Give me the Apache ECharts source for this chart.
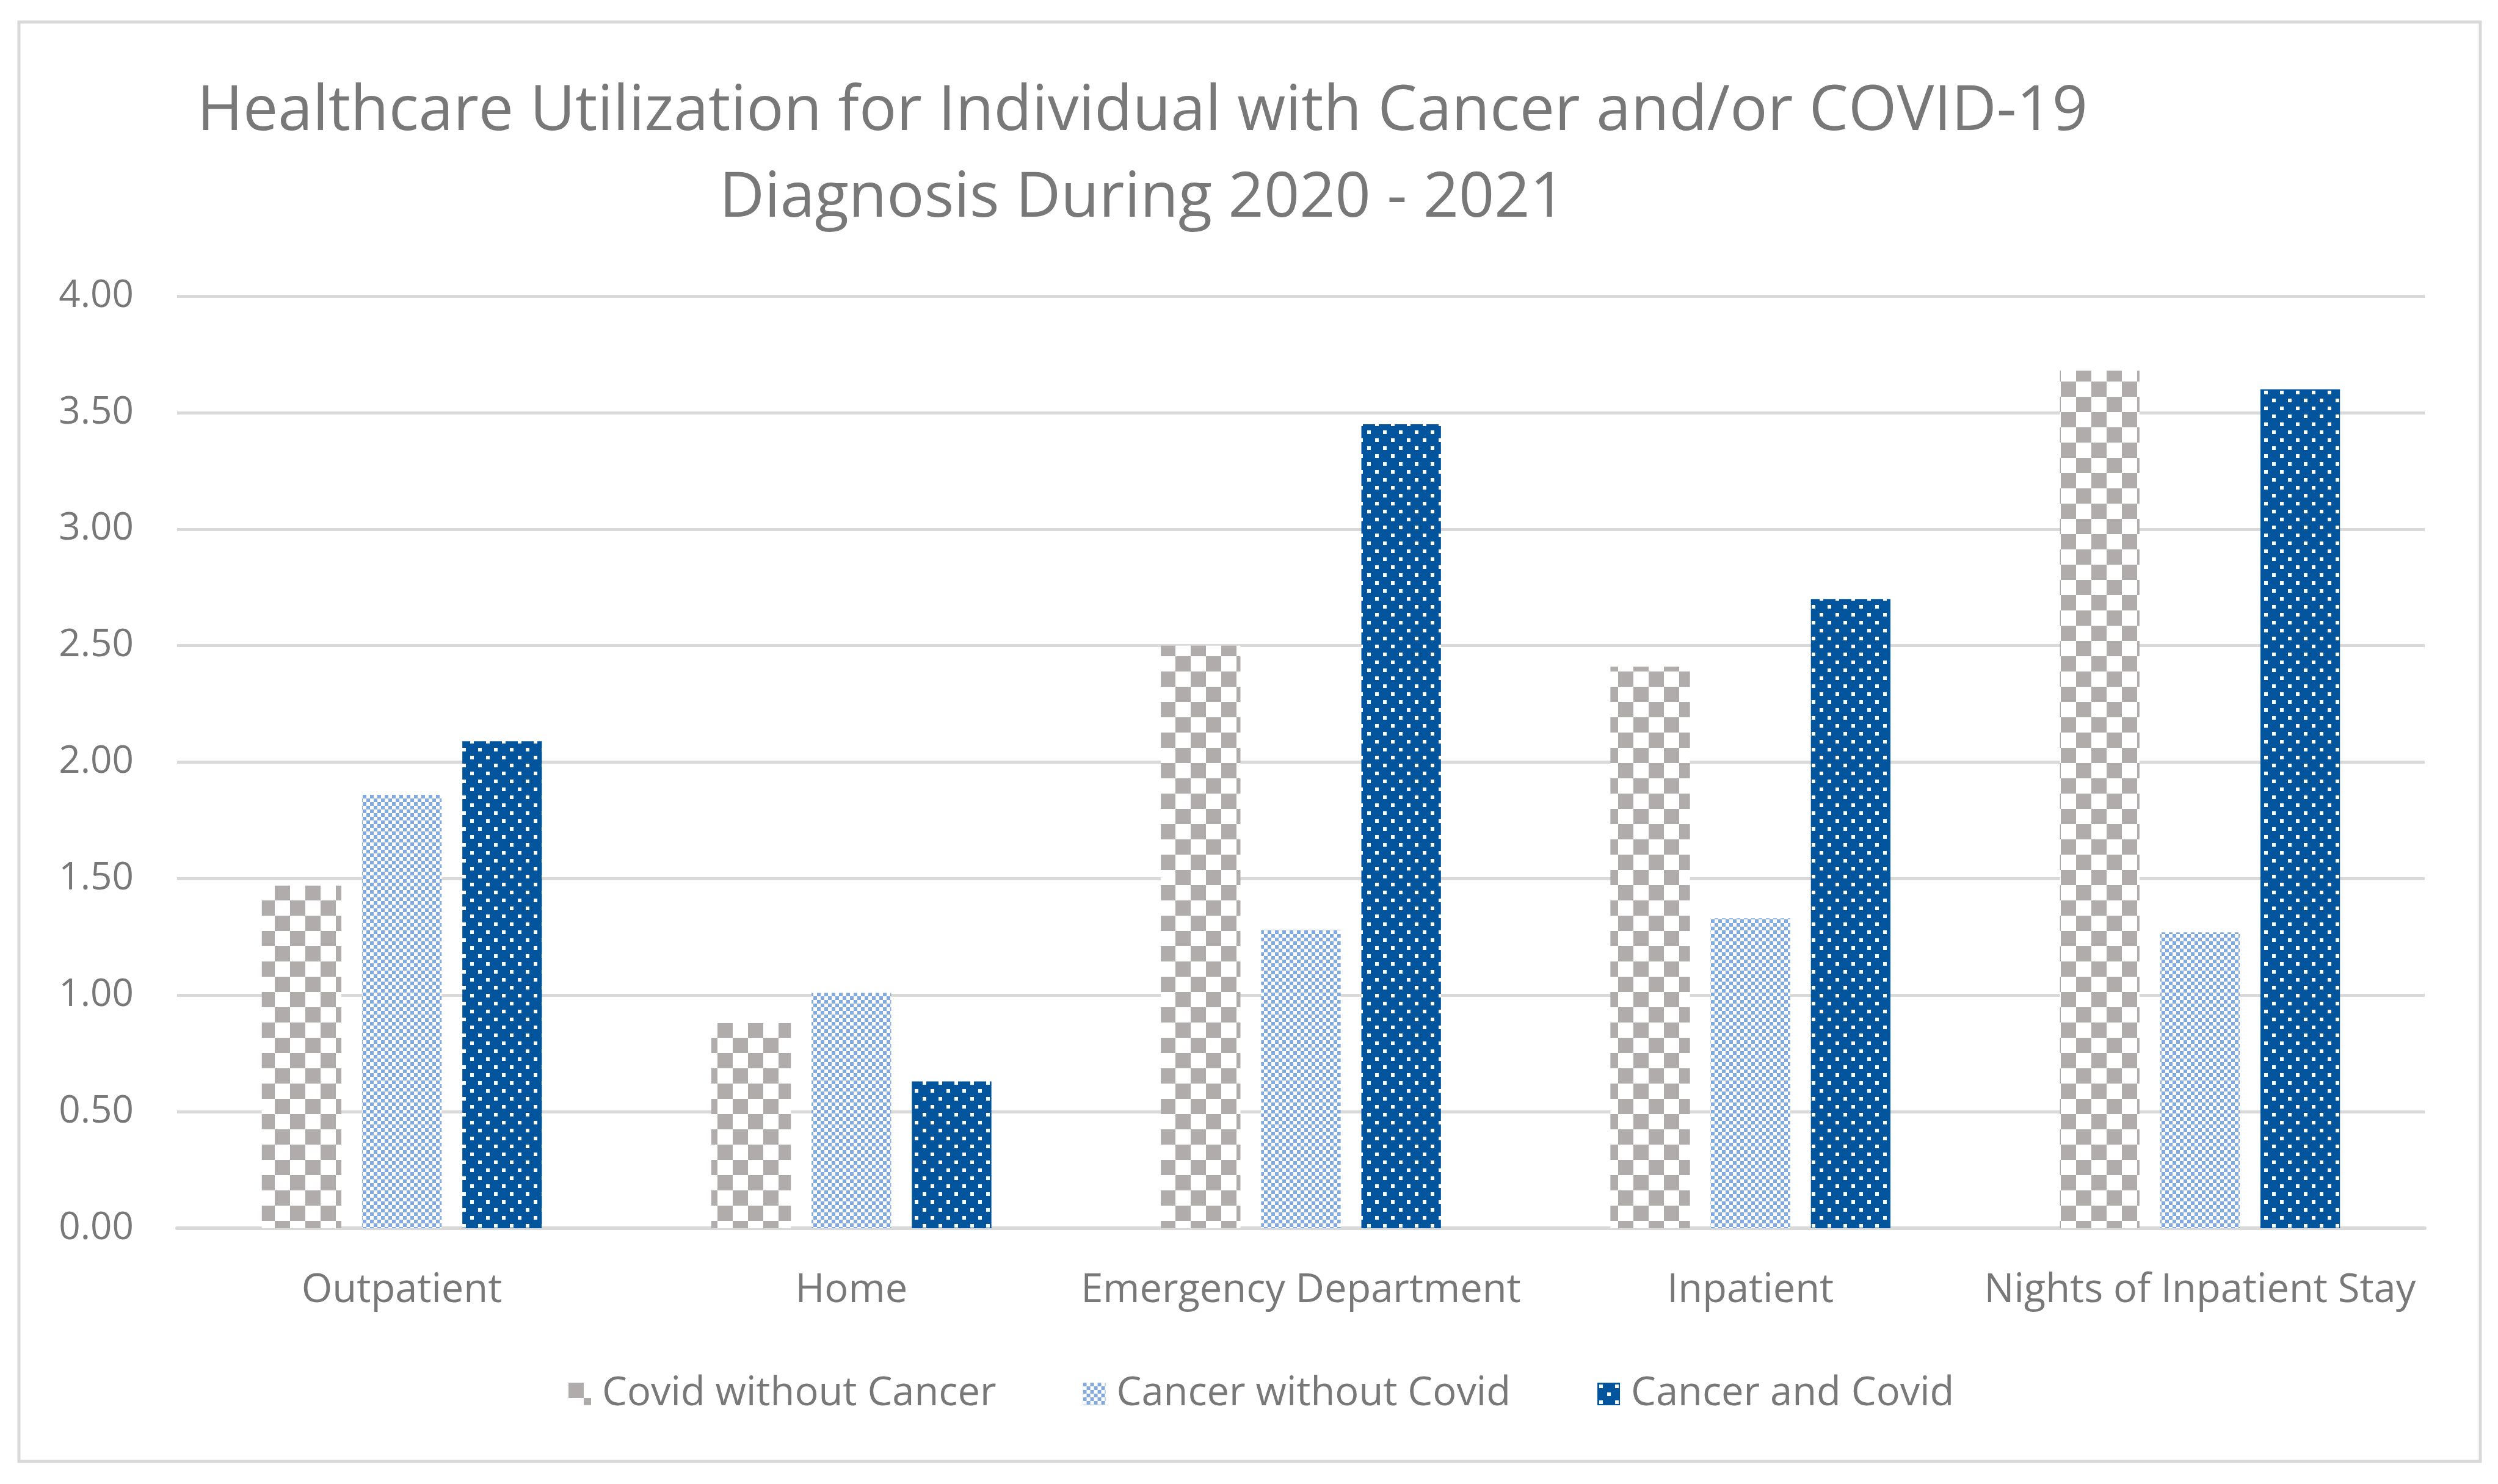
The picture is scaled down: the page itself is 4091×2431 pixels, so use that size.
<!DOCTYPE html>
<html>
<head>
<meta charset="utf-8">
<script src="https://cdn.jsdelivr.net/npm/echarts@6/dist/echarts.min.js"></script>
<style>
html,body{margin:0;padding:0;background:#fff;}
#chart{width:4091px;height:2431px;}
</style>
</head>
<body>
<div id="chart"></div>
<script>
const categories = ['Outpatient', 'Home', 'Emergency Department', 'Inpatient', 'Nights of Inpatient Stay'];
const seriesNames = ['Covid without Cancer', 'Cancer without Covid', 'Cancer and Covid'];
const covidWithoutCancer = [1.47, 0.88, 2.50, 2.41, 3.68];
const cancerWithoutCovid = [1.86, 1.01, 1.28, 1.33, 1.27];
const cancerAndCovid = [2.09, 0.63, 3.45, 2.70, 3.60];
const yTicks = { min: 0, max: 4, interval: 0.5 };
const titleText = 'Healthcare Utilization for Individual with Cancer and/or COVID-19\nDiagnosis During 2020 - 2021';

function makeChecker(size, color) {
  const c = document.createElement('canvas');
  c.width = size * 2; c.height = size * 2;
  const ctx = c.getContext('2d');
  ctx.fillStyle = '#ffffff';
  ctx.fillRect(0, 0, c.width, c.height);
  ctx.fillStyle = color;
  ctx.fillRect(0, 0, size, size);
  ctx.fillRect(size, size, size, size);
  return c;
}
function makeDots(tile, dot, color) {
  const c = document.createElement('canvas');
  c.width = tile; c.height = tile;
  const ctx = c.getContext('2d');
  ctx.fillStyle = color;
  ctx.fillRect(0, 0, tile, tile);
  ctx.fillStyle = '#ffffff';
  ctx.fillRect(3, 3, dot, dot);
  ctx.fillRect(3 + tile / 2, 3 + tile / 2, dot, dot);
  return c;
}
const grayPat = { image: makeChecker(25, '#AFACAB'), repeat: 'repeat' };
const lightPat = { image: makeChecker(6, '#82AADF'), repeat: 'repeat' };
const darkPat = { image: makeDots(26, 6, '#02559D'), repeat: 'repeat' };

const FONT = '"Open Sans", "Noto Sans", sans-serif';
const TEXT = '#787878';
const chart = echarts.init(document.getElementById('chart'));
const dataSets = [covidWithoutCancer, cancerWithoutCovid, cancerAndCovid];
const pats = [grayPat, lightPat, darkPat];
chart.setOption({
  animation: false,
  backgroundColor: '#ffffff',
  title: {
    text: titleText,
    left: 1866,
    top: 108,
    textAlign: 'center',
    textStyle: { fontFamily: FONT, fontSize: 102, fontWeight: 'normal', color: TEXT, lineHeight: 142 }
  },
  legend: {
    data: seriesNames,
    top: 2275 - 29,
    left: 926,
    itemWidth: 37,
    itemHeight: 37,
    itemGap: 142,
    icon: 'rect',
    textStyle: { fontFamily: FONT, fontSize: 65, color: TEXT, padding: [0, 0, 0, 13] }
  },
  grid: { left: 290, right: 120, top: 485, bottom: 419 },
  xAxis: {
    type: 'category',
    data: categories,
    axisTick: { show: false },
    axisLine: { lineStyle: { color: '#D9D9D9', width: 6 } },
    axisLabel: { fontFamily: FONT, fontSize: 65, color: TEXT, margin: 70, interval: 0 }
  },
  yAxis: {
    type: 'value',
    min: yTicks.min, max: yTicks.max, interval: yTicks.interval,
    axisLine: { show: false },
    axisTick: { show: false },
    splitLine: { lineStyle: { color: '#D9D9D9', width: 5 } },
    axisLabel: { fontFamily: FONT, fontSize: 62, color: TEXT, margin: 71, formatter: v => v.toFixed(2) }
  },
  graphic: [{
    type: 'rect',
    shape: { x: 31, y: 36, width: 4031, height: 2358 },
    style: { fill: 'none', stroke: '#D9D9D9', lineWidth: 5 },
    silent: true
  }],
  series: seriesNames.map((n, i) => ({
    name: n,
    type: 'bar',
    data: dataSets[i],
    barWidth: '17.7%',
    barGap: '26%',
    itemStyle: { color: pats[i] }
  }))
});
</script>
</body>
</html>
